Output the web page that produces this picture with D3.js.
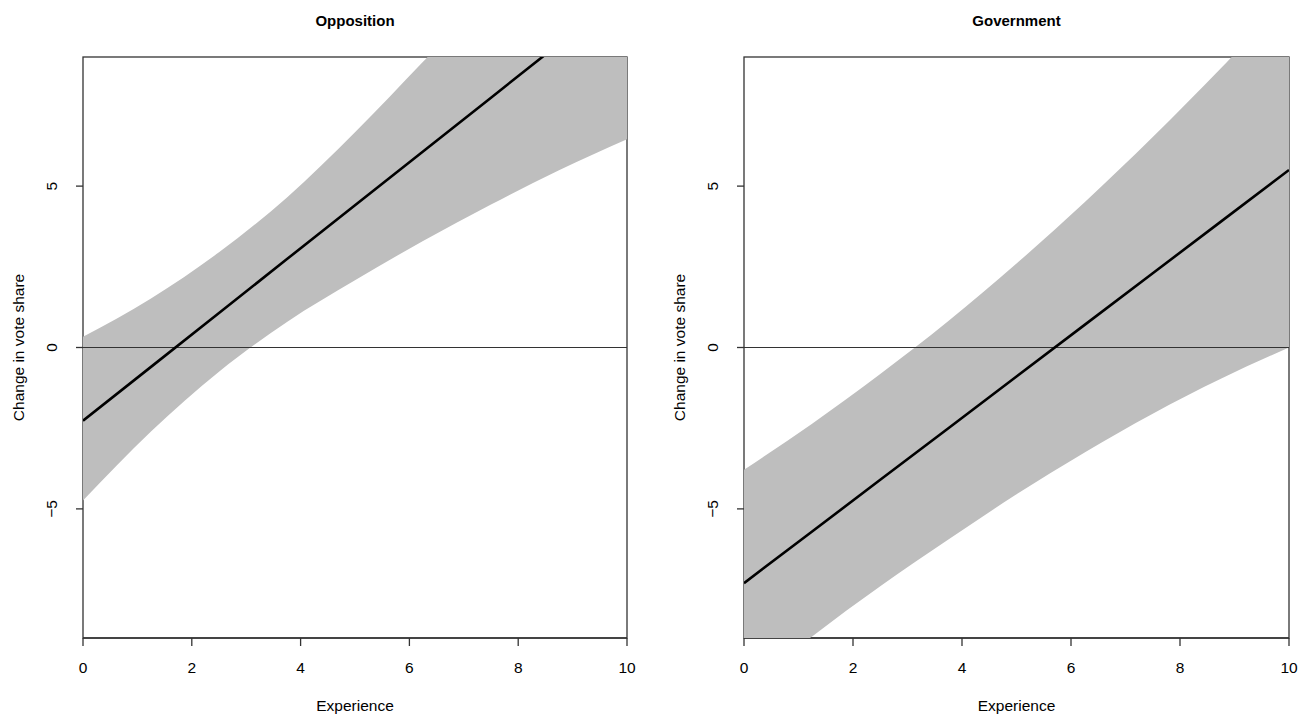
<!DOCTYPE html>
<html>
<head>
<meta charset="utf-8">
<script src="https://cdn.jsdelivr.net/npm/d3@7"></script>
<style>
  html, body { margin: 0; padding: 0; background: #fff; }
  svg { display: block; }
  text { font-family: "Liberation Sans", Arial, Helvetica, sans-serif; fill: #000; }
</style>
</head>
<body>
<svg id="chart" width="1302" height="720"></svg>
<script>
// Experience values at which the effect and its interval were evaluated
const experience = [0, 1.25, 2.5, 3.75, 5, 6.25, 7.5, 8.75, 10];

// Opposition: predicted change in vote share with lower / upper bounds
const oppFit   = [-2.27, -0.60, 1.07, 2.74, 4.41, 6.07, 7.74, 9.41, 11.08];
const oppUpper = [0.33, 1.52, 2.95, 4.65, 6.67, 8.85, 11.10, 13.40, 15.70];
const oppLower = [-4.74, -2.60, -0.75, 0.79, 2.08, 3.30, 4.43, 5.49, 6.45];

// Government: predicted change in vote share with lower / upper bounds
const govFit   = [-7.30, -5.70, -4.10, -2.50, -0.90, 0.70, 2.30, 3.90, 5.50];
const govUpper = [-3.79, -2.36, -0.82, 0.82, 2.60, 4.50, 6.52, 8.65, 10.90];
const govLower = [-10.60, -8.95, -7.40, -5.95, -4.55, -3.25, -2.05, -0.97, 0.00];

const panelTitles = ["Opposition", "Government"];
const xTicks = [0, 2, 4, 6, 8, 10];
const yTicks = [-5, 0, 5];
const xDomain = [0, 10];
const yDomain = [-9, 9];
const xLabel = "Experience";
const yLabel = "Change in vote share";

const panels = [
  { title: panelTitles[0], fit: oppFit, upper: oppUpper, lower: oppLower, left: 83, right: 627 },
  { title: panelTitles[1], fit: govFit, upper: govUpper, lower: govLower, left: 744, right: 1289 }
];

const svg = d3.select("#chart");
const plotTop = 57, plotBottom = 638;
const font = 15.5;

panels.forEach((p, i) => {
  const x = d3.scaleLinear().domain(xDomain).range([p.left, p.right]);
  const y = d3.scaleLinear().domain(yDomain).range([plotBottom, plotTop]);
  const g = svg.append("g");

  const clipId = "clip" + i;
  svg.append("clipPath").attr("id", clipId)
    .append("rect")
    .attr("x", p.left).attr("y", plotTop)
    .attr("width", p.right - p.left).attr("height", plotBottom - plotTop);

  // plot box
  g.append("rect")
    .attr("x", p.left).attr("y", plotTop)
    .attr("width", p.right - p.left).attr("height", plotBottom - plotTop)
    .attr("fill", "none").attr("stroke", "#333").attr("stroke-width", 1.3);

  // x axis: line spans first to last tick
  g.append("line")
    .attr("x1", x(xTicks[0])).attr("x2", x(xTicks[xTicks.length - 1]))
    .attr("y1", plotBottom).attr("y2", plotBottom)
    .attr("stroke", "#333").attr("stroke-width", 1.3);
  xTicks.forEach(t => {
    g.append("line")
      .attr("x1", x(t)).attr("x2", x(t))
      .attr("y1", plotBottom).attr("y2", plotBottom + 8)
      .attr("stroke", "#333").attr("stroke-width", 1.3);
    g.append("text")
      .attr("x", x(t)).attr("y", 672.5)
      .attr("text-anchor", "middle")
      .attr("font-size", font)
      .text(t);
  });

  // y axis
  yTicks.forEach(t => {
    g.append("line")
      .attr("x1", p.left - 7).attr("x2", p.left)
      .attr("y1", y(t)).attr("y2", y(t))
      .attr("stroke", "#333").attr("stroke-width", 1.3);
    g.append("text")
      .attr("transform", `translate(${p.left - 26},${y(t)}) rotate(-90)`)
      .attr("text-anchor", "middle")
      .attr("font-size", font)
      .text(String(t).replace("-", "\u2212"));
  });

  // axis titles and panel title
  g.append("text")
    .attr("x", (p.left + p.right) / 2).attr("y", 711)
    .attr("text-anchor", "middle").attr("font-size", font)
    .text(xLabel);
  g.append("text")
    .attr("transform", `translate(${p.left - 59},${(plotTop + plotBottom) / 2}) rotate(-90)`)
    .attr("text-anchor", "middle").attr("font-size", font)
    .text(yLabel);
  g.append("text")
    .attr("x", (p.left + p.right) / 2).attr("y", 26)
    .attr("text-anchor", "middle").attr("font-size", 15)
    .attr("font-weight", "bold")
    .text(p.title);

  const data = experience.map((e, k) => ({ e, fit: p.fit[k], lo: p.lower[k], hi: p.upper[k] }));

  // confidence band
  const area = d3.area()
    .x(d => x(d.e)).y0(d => y(d.lo)).y1(d => y(d.hi))
    .curve(d3.curveMonotoneX);
  g.append("path")
    .datum(data)
    .attr("clip-path", `url(#${clipId})`)
    .attr("d", area)
    .attr("fill", "#bebebe");

  // zero reference line
  g.append("line")
    .attr("x1", p.left).attr("x2", p.right)
    .attr("y1", y(0)).attr("y2", y(0))
    .attr("stroke", "#333").attr("stroke-width", 1.2);

  // fitted effect
  const line = d3.line().x(d => x(d.e)).y(d => y(d.fit));
  g.append("path")
    .datum(data)
    .attr("clip-path", `url(#${clipId})`)
    .attr("d", line)
    .attr("fill", "none").attr("stroke", "#000").attr("stroke-width", 2.6);
});
</script>
</body>
</html>
